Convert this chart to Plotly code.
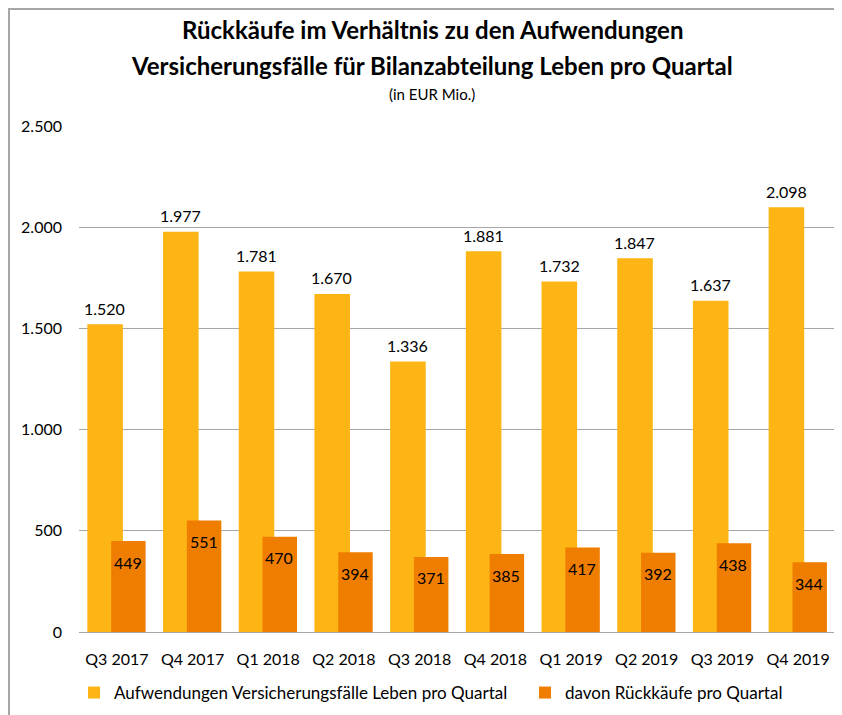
import plotly.graph_objects as go

categories = ["Q3 2017", "Q4 2017", "Q1 2018", "Q2 2018", "Q3 2018",
              "Q4 2018", "Q1 2019", "Q2 2019", "Q3 2019", "Q4 2019"]
aufwendungen = [1520, 1977, 1781, 1670, 1336, 1881, 1732, 1847, 1637, 2098]
rueckkaeufe = [449, 551, 470, 394, 371, 385, 417, 392, 438, 344]

name_auf = "Aufwendungen Versicherungsfälle Leben pro Quartal"
name_rk = "davon Rückkäufe pro Quartal"
title_1 = "Rückkäufe im Verhältnis zu den Aufwendungen"
title_2 = "Versicherungsfälle für Bilanzabteilung Leben pro Quartal"
subtitle = "(in EUR Mio.)"

YELLOW = "#FDB515"
ORANGE = "#EF7D00"
FONT = "Lato, Open Sans, sans-serif"

# page has an 8px body margin; figure is laid out in reference pixel coords minus 8
OFF = 8
W, H = 834, 707
ML, MR, MT, MB = 71, 6, 118, 83
PW, PH = W - ML - MR, H - MT - MB


def px_x(p):
    return (p - OFF - ML) / PW


def px_y(p):
    return (H - MB - (p - OFF)) / PH


def fmt(v):
    return f"{v:,}".replace(",", ".")


fig = go.Figure()
fig.add_trace(go.Bar(x=categories, y=aufwendungen, name=name_auf,
                     marker=dict(color=YELLOW, line=dict(width=0)),
                     offset=-0.39, width=0.47, legend="legend"))
fig.add_trace(go.Bar(x=categories, y=rueckkaeufe, name=name_rk,
                     marker=dict(color=ORANGE, line=dict(width=0)),
                     offset=-0.075, width=0.455, legend="legend2"))

annotations = []
for c, v in zip(categories, aufwendungen):
    annotations.append(dict(x=c, y=v, text=fmt(v), showarrow=False,
                            xshift=-12, yshift=16, yanchor="middle",
                            font=dict(size=16, color="#000000", family=FONT)))
for c, v in zip(categories, rueckkaeufe):
    annotations.append(dict(x=c, y=v, text=fmt(v), showarrow=False,
                            xshift=11, yshift=-21, yanchor="middle",
                            font=dict(size=16, color="#000000", family=FONT)))

annotations += [
    dict(xref="paper", yref="paper", x=px_x(432), y=px_y(29), text=f"<b>{title_1}</b>",
         showarrow=False, xanchor="center", yanchor="middle",
         font=dict(size=24, color="#000000", family=FONT)),
    dict(xref="paper", yref="paper", x=px_x(432), y=px_y(65), text=f"<b>{title_2}</b>",
         showarrow=False, xanchor="center", yanchor="middle",
         font=dict(size=24, color="#000000", family=FONT)),
    dict(xref="paper", yref="paper", x=px_x(432), y=px_y(94), text=subtitle,
         showarrow=False, xanchor="center", yanchor="middle",
         font=dict(size=15, color="#000000", family=FONT)),
]

shapes = [
    dict(type="line", xref="paper", yref="paper", x0=px_x(8), x1=px_x(OFF + W), y0=px_y(9), y1=px_y(9),
         line=dict(color="#A6A6A6", width=2)),
    dict(type="line", xref="paper", yref="paper", x0=px_x(9), x1=px_x(9), y0=px_y(8), y1=px_y(OFF + H),
         line=dict(color="#A6A6A6", width=2)),
]

legend_common = dict(orientation="h", xanchor="left", yanchor="middle",
                     font=dict(size=17, color="#000000", family=FONT),
                     bgcolor="rgba(0,0,0,0)", borderwidth=0)

fig.update_layout(
    width=W, height=H,
    margin=dict(l=ML, r=MR, t=MT, b=MB, autoexpand=False),
    paper_bgcolor="white", plot_bgcolor="white",
    barmode="overlay",
    separators=",.",
    font=dict(family=FONT, size=16, color="#000000"),
    showlegend=True,
    legend=dict(x=px_x(74), y=px_y(693), **legend_common),
    legend2=dict(x=px_x(525), y=px_y(693), **legend_common),
    annotations=annotations,
    shapes=shapes,
    xaxis=dict(type="category", showgrid=False, showline=False, zeroline=False,
               ticks="", ticklabelstandoff=16,
               tickfont=dict(size=16, color="#000000", family=FONT)),
    yaxis=dict(range=[0, 2500], dtick=500, tick0=0, tickformat=",d",
               showgrid=True, gridcolor="#A6A6A6", gridwidth=1,
               zeroline=True, zerolinecolor="#A6A6A6", zerolinewidth=1,
               showline=False, ticks="", ticklabelstandoff=16,
               tickfont=dict(size=16, color="#000000", family=FONT)),
)

fig.write_html("out.html")
